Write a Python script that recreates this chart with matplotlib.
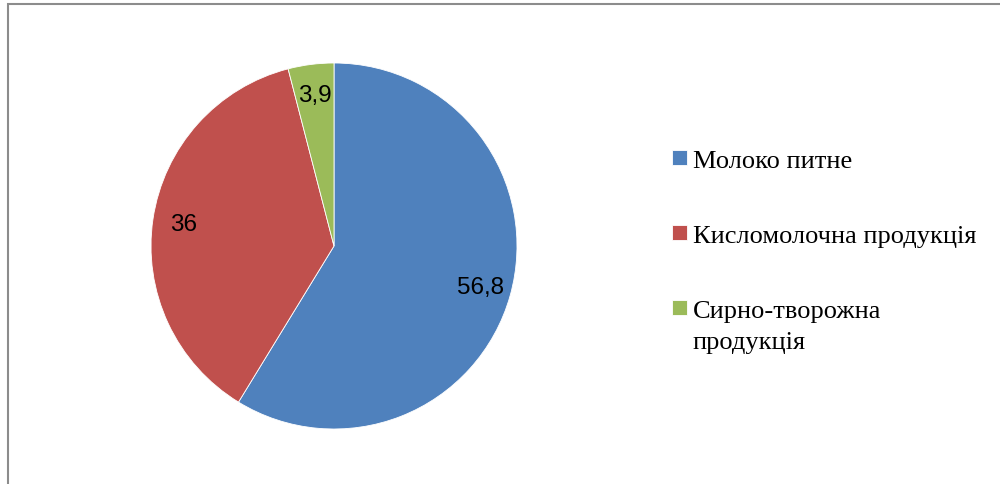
import matplotlib
matplotlib.use("Agg")
import matplotlib.pyplot as plt
from matplotlib.patches import Rectangle
from matplotlib.legend_handler import HandlerPatch

categories = ["Молоко питне", "Кисломолочна продукція", "Сирно-творожна\nпродукція"]
values = [56.8, 36, 3.9]
value_labels = ["56,8", "36", "3,9"]
colors = ["#4F81BD", "#C0504D", "#9BBB59"]

W, H = 1000, 485
fig = plt.figure(figsize=(W / 100, H / 100), dpi=100)

# pie centre (334, 247) px, radius 183 px
cx, cy, r = 334, 247, 183
ax = fig.add_axes([(cx - r) / W, (H - cy - r) / H, 2 * r / W, 2 * r / H])

wedges, texts = ax.pie(values, labels=value_labels, colors=colors,
                       startangle=90, counterclock=False,
                       labeldistance=0.83, radius=1,
                       wedgeprops=dict(edgecolor="white", linewidth=0.6),
                       textprops=dict(fontsize=17.5, family="Liberation Sans", color="black"))
for t in texts:
    t.set_horizontalalignment("center")
    t.set_verticalalignment("center")
ax.set_xlim(-1, 1)
ax.set_ylim(-1, 1)


# square legend key aligned with the first text line
def square(legend, orig_handle, xdescent, ydescent, width, height, fontsize):
    lines = legend_lines.get(orig_handle, 1)
    shift = 0.68 * fontsize * (lines - 1)
    return Rectangle((-xdescent, -ydescent + shift), width, height)


legend_lines = {w: c.count("\n") + 1 for w, c in zip(wedges, categories)}

leg = fig.legend(wedges, categories, loc="upper left",
                 bbox_to_anchor=(672 / W, 1 - 151 / H),
                 frameon=False, prop=dict(family="Liberation Serif", size=19),
                 handlelength=0.55, handleheight=0.5, handletextpad=0.23,
                 labelspacing=2.0, borderpad=0, borderaxespad=0,
                 handler_map={w: HandlerPatch(patch_func=square) for w in wedges})
for t in leg.get_texts():
    t.set_linespacing(1.54)

# chart area border (only top and left edges visible)
fig.add_artist(Rectangle((8 / W, -0.1), 1.2, (H - 5) / H + 0.1,
                         transform=fig.transFigure, fill=False,
                         edgecolor="#8c8c8c", linewidth=1.5, clip_on=False))

fig.savefig("out.png", dpi=100)
